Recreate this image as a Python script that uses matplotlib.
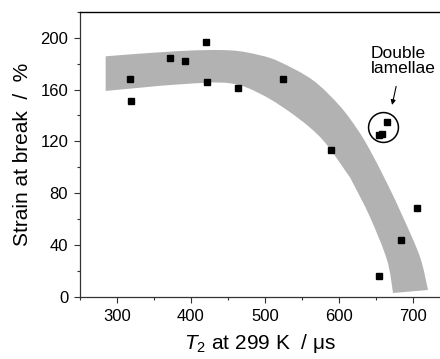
import matplotlib
matplotlib.use('Agg')
import matplotlib.pyplot as plt
from matplotlib.path import Path
from matplotlib.patches import PathPatch
from matplotlib.ticker import MultipleLocator

plt.rcParams['font.family'] = ['Liberation Sans', 'DejaVu Sans']
plt.rcParams['mathtext.fontset'] = 'custom'
plt.rcParams['mathtext.rm'] = 'Liberation Sans'
plt.rcParams['mathtext.it'] = 'Liberation Sans:italic'

# measured points
t2 = [318, 319, 371, 392, 420, 422, 464, 524, 589, 654, 658, 665, 654, 684, 706]
strain = [168, 151, 184, 182, 197, 166, 161, 168, 113, 125, 126, 135, 16, 44, 69]

# guide-to-the-eye band (upper/right edge and lower/left edge)
band_upper_x = [284.7, 385.1, 452.7, 493.2, 520.3, 564.9, 601.4, 625.7, 641.9, 664.9, 686.5, 709.5, 720.3]
band_upper_y = [185.6, 189.7, 190.2, 186.4, 181.2, 167.1, 147.1, 128.6, 113.2, 87.8, 61.6, 30.8, 5.4]
band_lower_x = [284.7, 385.1, 452.7, 497.3, 543.2, 578.4, 610.8, 618.9, 641.9, 664.9, 673.0]
band_lower_y = [158.9, 164.0, 164.8, 155.6, 138.6, 120.9, 95.5, 87.8, 61.6, 28.5, 3.1]


def bezier_segments(pts):
    """Cubic bezier control points (Catmull-Rom style) through pts, without the first point."""
    verts = []
    n = len(pts)
    for i in range(n - 1):
        p0 = pts[max(i - 1, 0)]
        p1 = pts[i]
        p2 = pts[i + 1]
        p3 = pts[min(i + 2, n - 1)]
        c1 = (p1[0] + (p2[0] - p0[0]) / 6, p1[1] + (p2[1] - p0[1]) / 6)
        c2 = (p2[0] - (p3[0] - p1[0]) / 6, p2[1] - (p3[1] - p1[1]) / 6)
        verts += [c1, c2, p2]
    return verts


fig = plt.figure(figsize=(4.4, 3.59), dpi=100)
ax = fig.add_axes([80 / 440, 62 / 359, 360 / 440, 285.3 / 359])

upper = list(zip(band_upper_x, band_upper_y))
lower = list(zip(band_lower_x, band_lower_y))[::-1]
verts = [upper[0]] + bezier_segments(upper) + [lower[0]] + bezier_segments(lower) + [upper[0]]
codes = ([Path.MOVETO] + [Path.CURVE4] * (3 * (len(upper) - 1)) + [Path.LINETO]
         + [Path.CURVE4] * (3 * (len(lower) - 1)) + [Path.CLOSEPOLY])
ax.add_patch(PathPatch(Path(verts, codes), facecolor='#b2b2b2', lw=0, zorder=1))

ax.plot(t2, strain, 's', color='black', ms=4.2, zorder=3)

# circle round the double-lamellae points
ax.plot([660], [131], 'o', ms=21.5, mfc='none', mec='black', mew=1.1, zorder=3)
ax.text(643, 182, 'Double\nlamellae', fontsize=12.5, ha='left', va='center',
        linespacing=1.05, clip_on=False)
ax.annotate('', xy=(671, 146), xytext=(678, 164.5),
            arrowprops=dict(arrowstyle='-|>', lw=0.8, color='black', mutation_scale=7))

ax.set_xlim(250, 736.5)
ax.set_ylim(0, 220)
ax.set_xticks([300, 400, 500, 600, 700])
ax.xaxis.set_minor_locator(MultipleLocator(50))
ax.yaxis.set_major_locator(MultipleLocator(40))
ax.yaxis.set_minor_locator(MultipleLocator(20))

ax.spines['right'].set_visible(False)
for s in ['left', 'bottom']:
    ax.spines[s].set_color('#333333')
    ax.spines[s].set_linewidth(0.9)
ax.spines['top'].set_linewidth(1.0)

ax.tick_params(which='major', direction='out', length=4.5, width=0.8, color='#333333',
               labelsize=12, pad=4)
ax.tick_params(which='minor', direction='out', length=2.5, width=0.8, color='#333333')

ax.set_xlabel('$T_2$ at 299 K  / μs', fontsize=15, labelpad=6)
ax.set_ylabel('Strain at break  /  %', fontsize=15, labelpad=6)

fig.savefig('out.png', dpi=100)
